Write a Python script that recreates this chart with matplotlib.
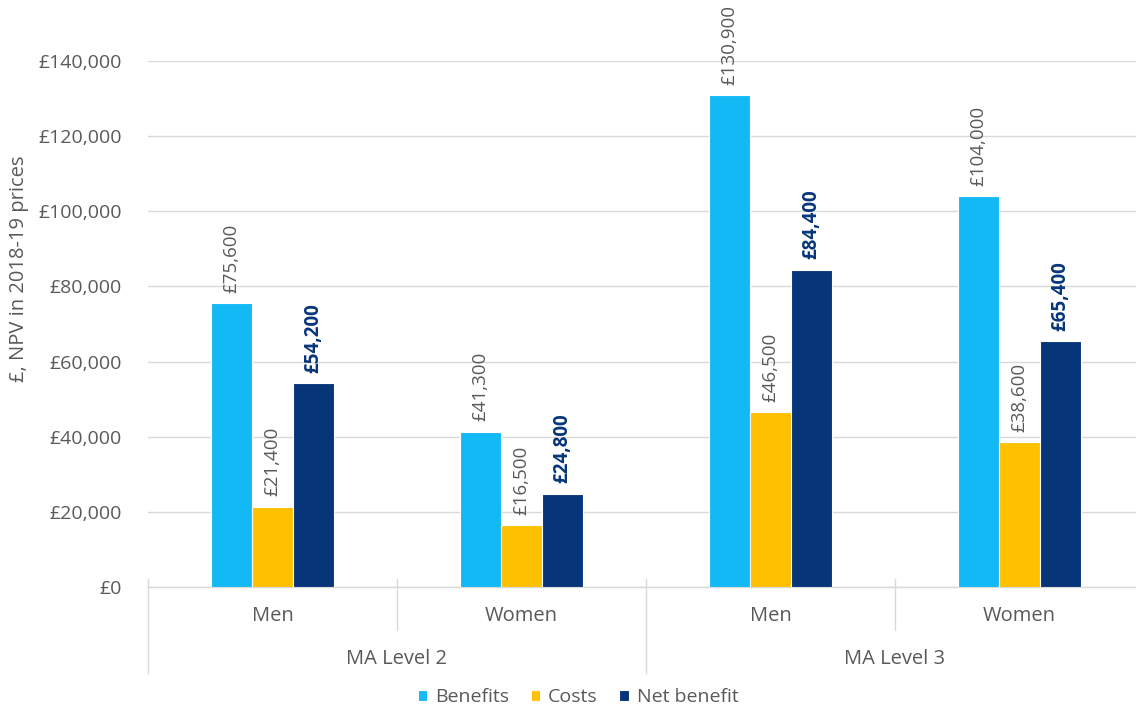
import matplotlib.pyplot as plt
import numpy as np
from matplotlib.ticker import FuncFormatter

plt.rcParams['font.family'] = ['Open Sans', 'DejaVu Sans']

groups = ["Men", "Women", "Men", "Women"]
levels = ["MA Level 2", "MA Level 3"]
series = ["Benefits", "Costs", "Net benefit"]
benefits = [75600, 41300, 130900, 104000]
costs = [21400, 16500, 46500, 38600]
net_benefit = [54200, 24800, 84400, 65400]

colors = ["#13B9F5", "#FFC000", "#06357A"]
grey = "#595959"
W, H = 1136, 711

fig = plt.figure(figsize=(W / 100, H / 100), dpi=100)
ax = fig.add_axes([148 / W, 1 - 587 / H, (W - 148) / W, (587 - 61) / H])

x = np.arange(len(groups))
bw = 0.165
for i, (vals, col) in enumerate(zip([benefits, costs, net_benefit], colors)):
    pos = x + (i - 1) * bw
    ax.bar(pos, vals, width=bw, color=col, edgecolor="white", linewidth=0.8,
           label=series[i], zorder=3)
    for px, v in zip(pos, vals):
        bold = i == 2
        ax.annotate(f"£{v:,}", (px, v), xytext=(0, 7.5), textcoords="offset points",
                    rotation=90, ha="center", va="bottom", fontsize=13.5,
                    color=colors[2] if bold else grey,
                    fontweight="bold" if bold else "normal", annotation_clip=False)

ax.set_ylim(0, 140000)
ax.set_xlim(-0.5, (W - 148) / 249 - 0.5)
ax.set_yticks(np.arange(0, 140001, 20000))
ax.yaxis.set_major_formatter(FuncFormatter(lambda v, p: f"£{int(v):,}"))
ax.tick_params(axis="y", length=0, pad=19, labelsize=14, labelcolor=grey)
ax.set_xticks([])
ax.grid(axis="y", color="#D9D9D9", linewidth=1, zorder=0)
for s in ["top", "right", "left"]:
    ax.spines[s].set_visible(False)
ax.spines["bottom"].set_color("#D9D9D9")
ax.spines["bottom"].set_linewidth(1)

# category labels and separators
trans = ax.get_xaxis_transform()
for i, g in enumerate(groups):
    ax.text(x[i], -29 / 526, g, transform=trans, ha="center", va="center",
            fontsize=14.5, color=grey)
for j, lv in enumerate(levels):
    ax.text(2 * j + 0.5, -72 / 526, lv, transform=trans, ha="center", va="center",
            fontsize=14.5, color=grey)
for k in range(4):
    bottom = -86 / 526 if k % 2 == 0 else -43 / 526
    ax.plot([k - 0.5, k - 0.5], [8 / 526, bottom], transform=trans,
            color="#D9D9D9", linewidth=1, clip_on=False)

fig.text(19 / W, 1 - 269 / H, "£, NPV in 2018-19 prices", rotation=90,
         ha="center", va="center", fontsize=14.5, color=grey)

leg = fig.legend(loc="center", bbox_to_anchor=(578 / W, 1 - 697 / H), ncol=3,
                 frameon=False, fontsize=14, handlelength=0.5, handleheight=0.5,
                 handletextpad=0.4, columnspacing=1.1)
for t in leg.get_texts():
    t.set_color(grey)

fig.savefig("out.png", dpi=100)
